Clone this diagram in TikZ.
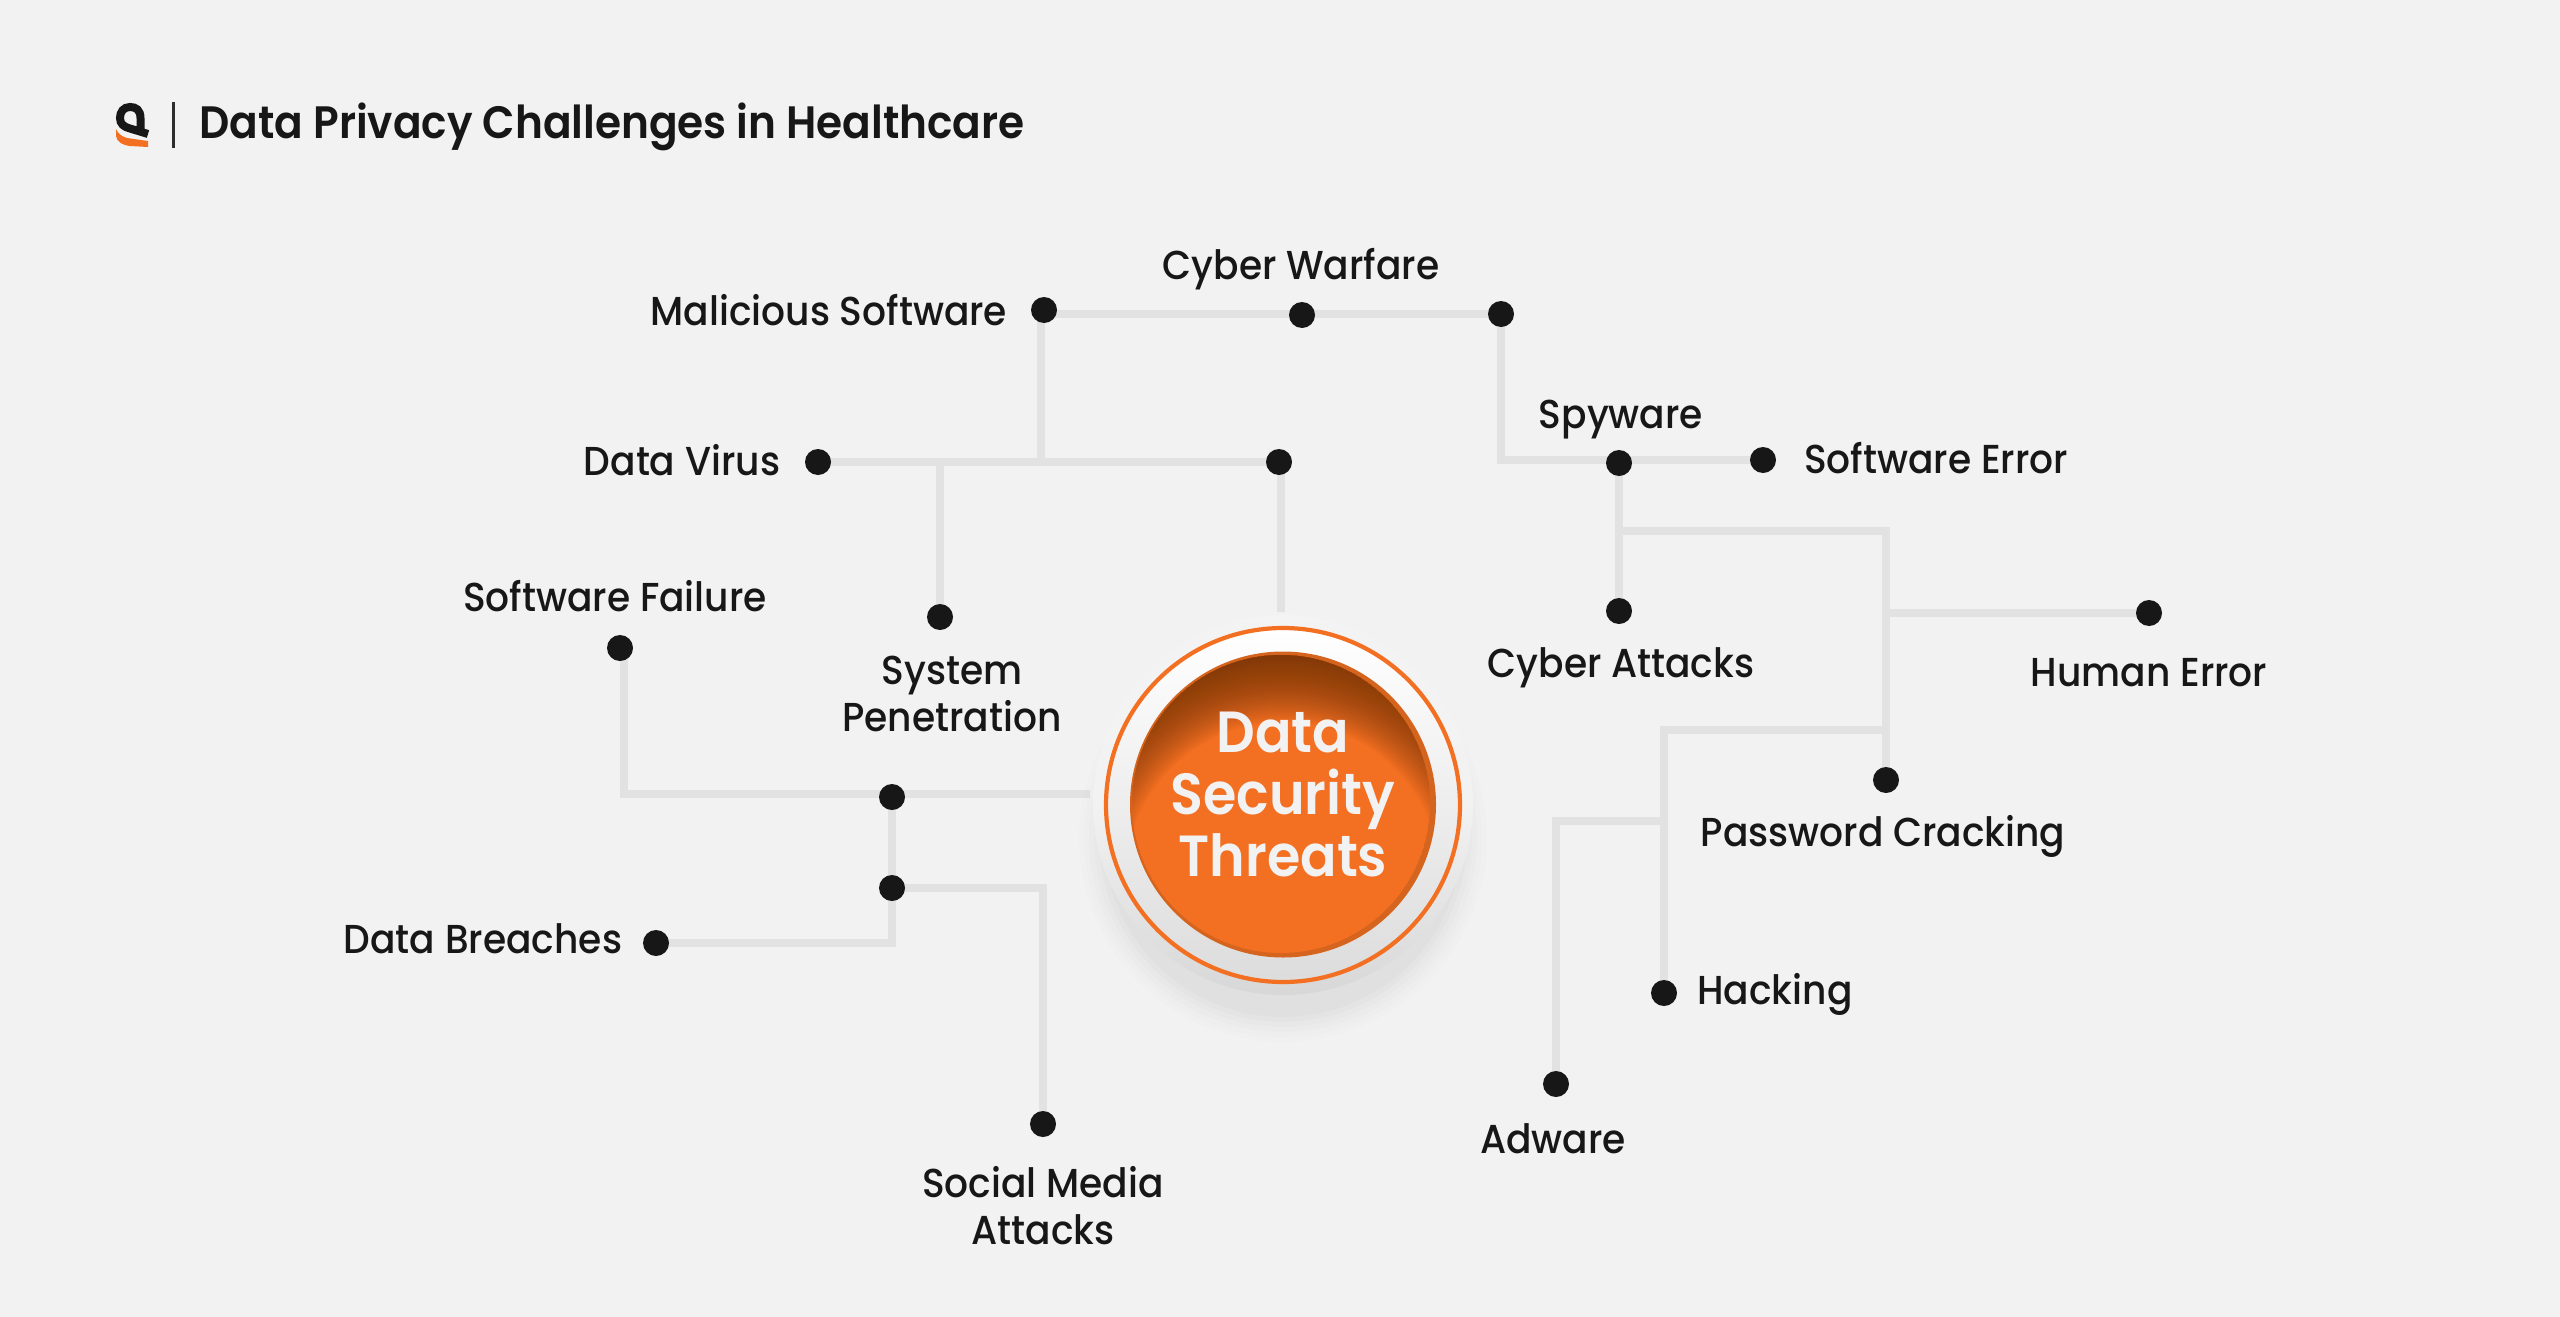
\documentclass[tikz,border=0pt]{standalone}
\usepackage{fontspec}
\setmainfont[FakeStretch=0.93]{Poppins Medium}
\newfontfamily\semif[FakeStretch=0.93]{Poppins SemiBold}
\usetikzlibrary{backgrounds,calc}
\definecolor{bgc}{HTML}{F2F2F2}
\definecolor{linec}{HTML}{E2E2E2}
\definecolor{dotc}{HTML}{171717}
\definecolor{ora}{HTML}{F36F21}
\definecolor{rim}{HTML}{D5641F}
\definecolor{brn}{HTML}{703308}
\tikzset{
  dotn/.style={circle,fill=dotc,inner sep=0pt,minimum size=13pt},
  lbl/.style={font=\fontsize{20.2}{24}\selectfont,text=dotc,inner sep=0pt,text height=0.72em,text depth=0.2em},
  wire/.style={draw=linec,line width=3.8pt,line join=miter},
}
\begin{document}
\begin{tikzpicture}[x=0.5pt,y=-0.5pt]
\useasboundingbox (0,0) rectangle (2560,1317);
\begin{scope}[on background layer]
\fill[bgc] (0,0) rectangle (2560,1317);
\end{scope}
% logo
\draw[dotc,line width=4pt,line cap=butt] (140.5,131) -- (140.5,118) .. controls (140.5,110) and (136,107) .. (130,107) .. controls (123.5,107) and (120,112) .. (120,118) .. controls (120,124) and (124,127) .. (130,128.5) -- (148,134);
\fill[ora] (116,129) .. controls (118,134) and (122,136.5) .. (127,138) -- (148,141) -- (148,147) -- (130,146) .. controls (122,145) and (117,142) .. (116,136) -- cycle;
\node[inner sep=0pt,minimum width=1.5pt,minimum height=23pt,fill=dotc!90] (divider) at (173,125) {};
\node[anchor=west,inner sep=0pt,font=\fontsize{22.7}{26}\semif\selectfont,text=dotc,text height=0.72em,text depth=0.2em] (title) at (199,133) {Data Privacy Challenges in Healthcare};
% dots
\node[dotn] (ms) at (1044,310) {};
\node[dotn] (cw) at (1302,315) {};
\node[dotn] (tr) at (1501,314) {};
\node[dotn] (dv) at (818,462) {};
\node[dotn] (up) at (1279,462) {};
\node[dotn] (sp) at (940,617) {};
\node[dotn] (spy) at (1619,463) {};
\node[dotn] (se) at (1763,460) {};
\node[dotn] (ca) at (1619,611) {};
\node[dotn] (he) at (2149,613) {};
\node[dotn] (pc) at (1886,780) {};
\node[dotn] (ha) at (1664,993) {};
\node[dotn] (ad) at (1556,1084) {};
\node[dotn] (sf) at (620,648) {};
\node[dotn] (j1) at (892,797) {};
\node[dotn] (j2) at (892,888) {};
\node[dotn] (db) at (656,943) {};
\node[dotn] (sm) at (1043,1124) {};
% hub decoration
\foreach \r/\o in {204/.006,199/.008,194/.01,189/.012,184/.014,179/.016}
  \fill[black,opacity=\o] (1283,838) circle[radius=\r];
\shade[top color=bgc!88!white,bottom color=black!11!bgc,middle color=bgc] (1283,805) circle[radius=190];
\shade[top color=white,bottom color=black!9!bgc,draw=ora,line width=2.1pt] (1283,805) circle[radius=177];
\fill[rim] (1283,804.5) circle[radius=153];
\begin{scope}
\clip (1281,804) circle[radius=149];
\fill[ora] (1281,804) circle[radius=149];
\foreach \r in {158,160,...,230}
  \fill[brn,opacity=.045,even odd rule] (1283,880) circle[radius=\r] (1100,600) rectangle (1460,1000);
\end{scope}
\node[circle,inner sep=0pt,minimum size=193pt] (hub) at (1283,805) {};
\node[text=bgc,font=\fontsize{29}{31}\semif\selectfont,align=center,inner sep=0pt] (hubtext) at (1283,795) {Data\\Security\\Threats};
% wires
\begin{scope}[on background layer]
\path[wire] (ms.center) ++(-3,0) |- (dv.center);
\path[wire] (ms.center) ++(0,4) -- (tr.center) -- ++(0,146) -- (se.center);
\path[wire] (dv.center) -- (up.center);
\path[wire] (sp.center |- dv.center) -- (sp.center);
\path[wire] (up.center) ++(2,0) -- ($(up.center |- hub.north)+(2,0)$);
\path[wire] (spy.center) -- (ca.center);
\path[wire] (spy.center |- 0,531) -| (pc.center);
\path[wire] (pc.center |- he.center) -- (he.center);
\path[wire] (pc.center |- 0,730) -| (ha.center);
\path[wire] (ha.center |- 0,821) -| (ad.center);
\path[wire] (sf.center) ++(4,0) |- (hub.west |- 0,794);
\path[wire] (j1.center) |- (db.center);
\path[wire] (j2.center) -| (sm.center);
\end{scope}
% labels
\tikzset{every node/.append style={yshift=-4pt}}
\node[lbl] (l1) at (829,312) {Malicious Software};
\node[lbl] (l2) at (1301,266) {Cyber Warfare};
\node[lbl] (l3) at (682,462) {Data Virus};
\node[lbl] (l4) at (615,598) {Software Failure};
\node[lbl] (l5a) at (952,671) {System};
\node[lbl] (l5b) at (952,718) {Penetration};
\node[lbl] (l6) at (1621,415) {Spyware};
\node[lbl] (l7) at (1936,460) {Software Error};
\node[lbl] (l8) at (1621,664) {Cyber Attacks};
\node[lbl] (l9) at (2149,673) {Human Error};
\node[lbl] (l10) at (1883,833) {Password Cracking};
\node[lbl] (l11) at (1775,991) {Hacking};
\node[lbl] (l12) at (1553,1140) {Adware};
\node[lbl] (l13) at (483,940) {Data Breaches};
\node[lbl] (l14a) at (1043,1184) {Social Media};
\node[lbl] (l14b) at (1043,1231) {Attacks};
\end{tikzpicture}
\end{document}
